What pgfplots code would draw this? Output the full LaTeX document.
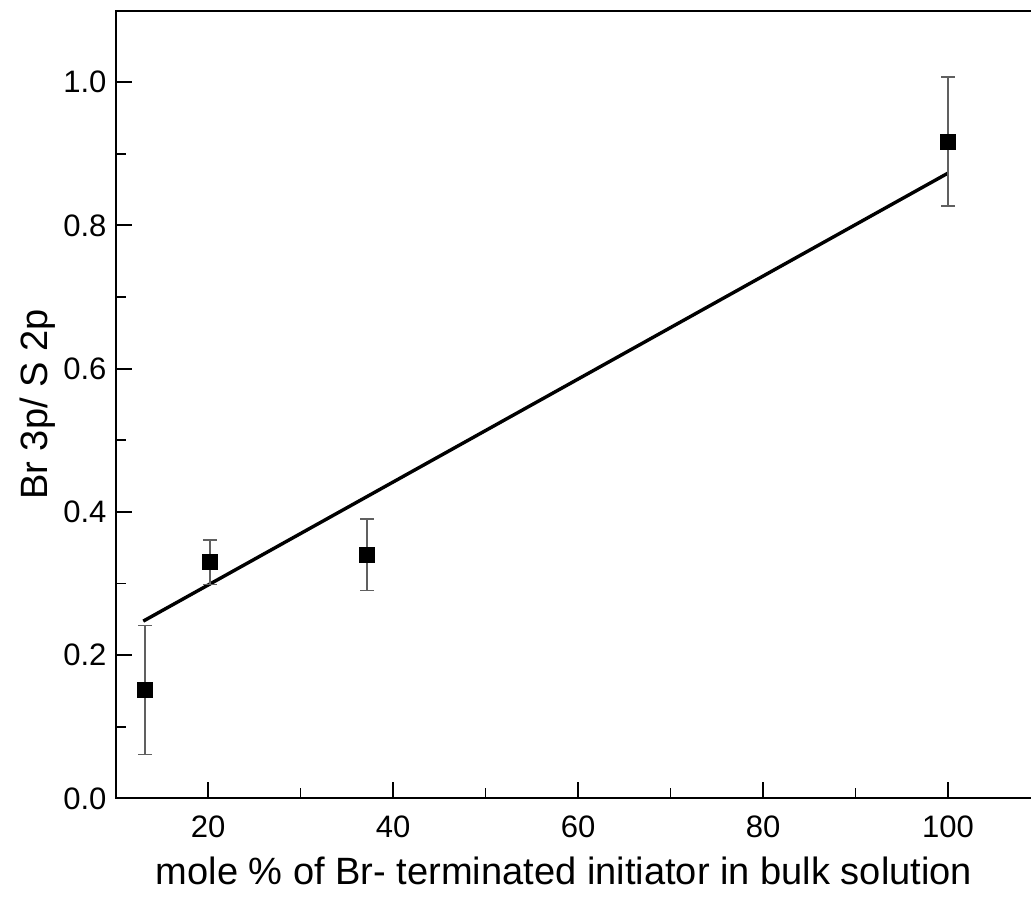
\documentclass[border=0pt]{standalone}
\usepackage{fontspec}
\setmainfont{Liberation Sans}
\usepackage{pgfplots}
\pgfplotsset{compat=1.18}
\begin{document}
\begin{tikzpicture}
\begin{axis}[
  scale only axis,
  width=462pt, height=393.5pt,
  xmin=10, xmax=110, ymin=0, ymax=1.1,
  xtick={20,40,60,80,100},
  minor xtick={30,50,70,90},
  ytick={0,0.2,0.4,0.6,0.8,1.0},
  minor ytick={0.1,0.3,0.5,0.7,0.9},
  yticklabel style={/pgf/number format/fixed, /pgf/number format/fixed zerofill, /pgf/number format/precision=1},
  /pgf/number format/assume math mode=true,
  tick pos=left,
  tick align=inside,
  major tick length=8pt,
  minor tick length=5pt,
  every tick/.style={black, line width=0.9pt},
  axis line style={line width=1pt},
  ticklabel style={font=\fontsize{15.5}{18}\selectfont},
  xticklabel style={yshift=-5pt},
  yticklabel style={xshift=-1pt},
  xlabel={mole \% of Br- terminated initiator in bulk solution},
  ylabel={Br 3p/ S 2p},
  label style={font=\fontsize{19}{22}\selectfont},
  xlabel style={yshift=-3pt, xshift=-7pt},
  ylabel style={yshift=-3pt},
  clip=false,
]
\addplot[black, line width=1.7pt, no marks] coordinates {(13,0.2475) (100,0.873)};
\addplot[
  only marks, mark=square*, mark size=3.8pt, black,
  error bars/.cd, y dir=both, y explicit,
  error bar style={gray!75!black, line width=0.7pt},
  error mark options={rotate=90, mark size=3.5pt, gray!75!black, line width=0.7pt},
] coordinates {
  (13.2,0.151) +- (0,0.09)
  (20.2,0.330) +- (0,0.031)
  (37.2,0.340) +- (0,0.05)
  (100,0.917) +- (0,0.09)
};
\coordinate (BL) at (axis cs:-2.49,-0.1385);
\coordinate (TR) at (axis cs:108.97,1.1147);
\end{axis}
\pgfresetboundingbox
\useasboundingbox (BL) rectangle (TR);
\end{tikzpicture}
\end{document}
